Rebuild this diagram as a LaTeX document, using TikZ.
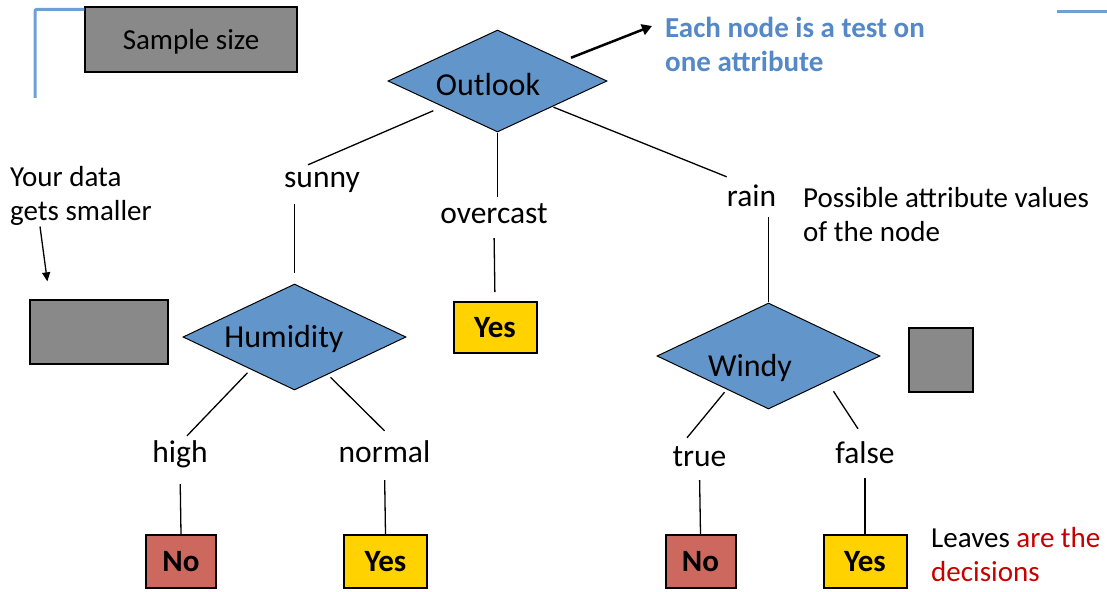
\documentclass[tikz,border=0pt]{standalone}
\usepackage{fontspec}
\setmainfont{Carlito}
\usetikzlibrary{shapes.geometric,arrows.meta}
\definecolor{nodeblue}{RGB}{98,150,202}
\definecolor{boxgray}{RGB}{137,137,137}
\definecolor{noRed}{RGB}{205,104,94}
\definecolor{yesGold}{RGB}{255,210,0}
\definecolor{noteblue}{RGB}{84,136,198}
\definecolor{decred}{RGB}{200,0,0}
\definecolor{slideblue}{RGB}{110,160,214}

\begin{document}
\begin{tikzpicture}[x=1pt, y=-1pt,
  txt/.style={font=\fontsize{29}{34}\selectfont},
  testtxt/.style={font=\fontsize{32}{36}\selectfont},
  test/.style={diamond, draw, fill=nodeblue, line width=1pt, inner sep=0pt, minimum width=223pt, minimum height=106pt},
  value/.style={font=\fontsize{31.5}{36}\selectfont, inner sep=0pt, text height=23pt, text depth=7pt, anchor=base},
  leaf/.style={draw, line width=2pt, inner sep=0pt, minimum height=53pt, font=\fontsize{31}{36}\selectfont\bfseries},
  graybox/.style={draw, fill=boxgray, line width=1.3pt, inner sep=0pt},
  edge/.style={line width=1.3pt}]
 \useasboundingbox (0,0) rectangle (1107,591);

 \node[graybox, txt, text depth=0pt, minimum width=212pt, minimum height=65pt] (sample) at (191,39.5) {Sample size};
 \node[graybox, minimum width=138pt, minimum height=64pt] (leftbox) at (99,332) {};
 \node[graybox, minimum width=64pt, minimum height=64pt] (rightbox) at (941,360) {};
 \draw[slideblue, line width=3pt, rounded corners=2pt] (35,98) |- ([yshift=-3pt]sample.north west);
 \draw[slideblue, line width=3pt] (1057,12) -- (1107,12);

 \node[test, minimum width=219pt, minimum height=102pt, label={[testtxt, xshift=-9.5pt, yshift=-3.5pt]center:Outlook}] (outlook) at (497.5,81) {};
 \node[test, label={[testtxt, xshift=-10.5pt, yshift=-1.5pt]center:Humidity}] (humidity) at (294.5,337) {};
 \node[test, label={[testtxt, xshift=-18.5pt, yshift=-11.5pt]center:Windy}] (windy) at (768.5,356) {};

 \node[value] (sunny) at (322,187) {sunny};
 \node[value] (overcast) at (494,223) {overcast};
 \node[value] (rain) at (751.5,206) {rain};
 \node[value] (high) at (180,462) {high};
 \node[value] (normal) at (384.5,462) {normal};
 \node[value] (true) at (699.5,466) {true};
 \node[value] (false) at (865,463) {false};

 \node[leaf, fill=yesGold, minimum width=83pt, minimum height=51pt] (yes1) at (495,327.5) {Yes};
 \node[leaf, fill=noRed, minimum width=70pt] (no1) at (181,561.5) {No};
 \node[leaf, fill=yesGold, minimum width=83pt] (yes2) at (385.5,561.5) {Yes};
 \node[leaf, fill=noRed, minimum width=70pt] (no2) at (700.5,561.5) {No};
 \node[leaf, fill=yesGold, minimum width=83pt] (yes3) at (865,561.5) {Yes};

 \draw[edge, shorten <=10pt] (outlook.south west) -- ([xshift=-14pt,yshift=-1pt]sunny.north);
 \draw[edge, shorten >=3pt] (outlook.south) -- (outlook.south |- overcast.north);
 \draw[edge, shorten <=1pt] (outlook.south east) -- ([yshift=6pt]rain.north west);
 \draw[edge, shorten <=10pt] (sunny.south -| humidity.north) -- ([yshift=11pt]humidity.north);
 \draw[edge, shorten <=8pt, shorten >=9pt] (overcast.south) -- (yes1.north);
 \draw[edge, shorten <=4pt, shorten >=1pt] (rain.south -| windy.north) -- (windy.north);
 \draw[edge] ([xshift=9pt,yshift=-9pt]humidity.south west) -- ([xshift=7pt,yshift=3pt]high.north);
 \draw[edge] ([xshift=-20pt,yshift=-13.5pt]humidity.south east) -- ([yshift=8pt]normal.north);
 \draw[edge] ([xshift=12pt,yshift=-9.5pt]windy.south west) -- ([xshift=-12.5pt,yshift=5pt]true.north);
 \draw[edge] ([xshift=9pt,yshift=-8.5pt]windy.south east) -- ([xshift=-7pt,yshift=11pt]false.north);
 \draw[edge, shorten <=15pt] (high.south) -- (no1.north);
 \draw[edge, shorten <=11pt] (normal.south) -- (yes2.north);
 \draw[edge, shorten <=7pt] (true.south) -- (no2.north);
 \draw[edge, shorten <=8pt] (false.south) -- (yes3.north);

 \node[anchor=north west, inner sep=0pt, align=left, text=noteblue, font=\fontsize{29}{34}\selectfont\bfseries] (each) at (665,17) {Each node is a test on\\one attribute};
 \node[txt, anchor=north west, inner sep=0pt, align=left] (yourdata) at (10,166) {Your data\\gets smaller};
 \node[txt, anchor=north west, inner sep=0pt, align=left] (possible) at (803,187) {Possible attribute values\\of the node};
 \node[txt, anchor=north west, inner sep=0pt, align=left] (leaves) at (931,527) {Leaves \textcolor{decred}{are the}\\\textcolor{decred}{decisions}};

 \draw[line width=2.5pt, -{Triangle[length=10pt,width=11pt]}] ([xshift=18.5pt,yshift=-2.5pt]outlook.north east) -- ([xshift=-13pt,yshift=-9pt]each.north west);
 \draw[line width=1.3pt, -{Triangle[length=9pt,width=8pt]}] ([xshift=30pt,yshift=-1pt]yourdata.south west) -- ([xshift=18pt,yshift=18pt]leftbox.north west);
\end{tikzpicture}
\end{document}
